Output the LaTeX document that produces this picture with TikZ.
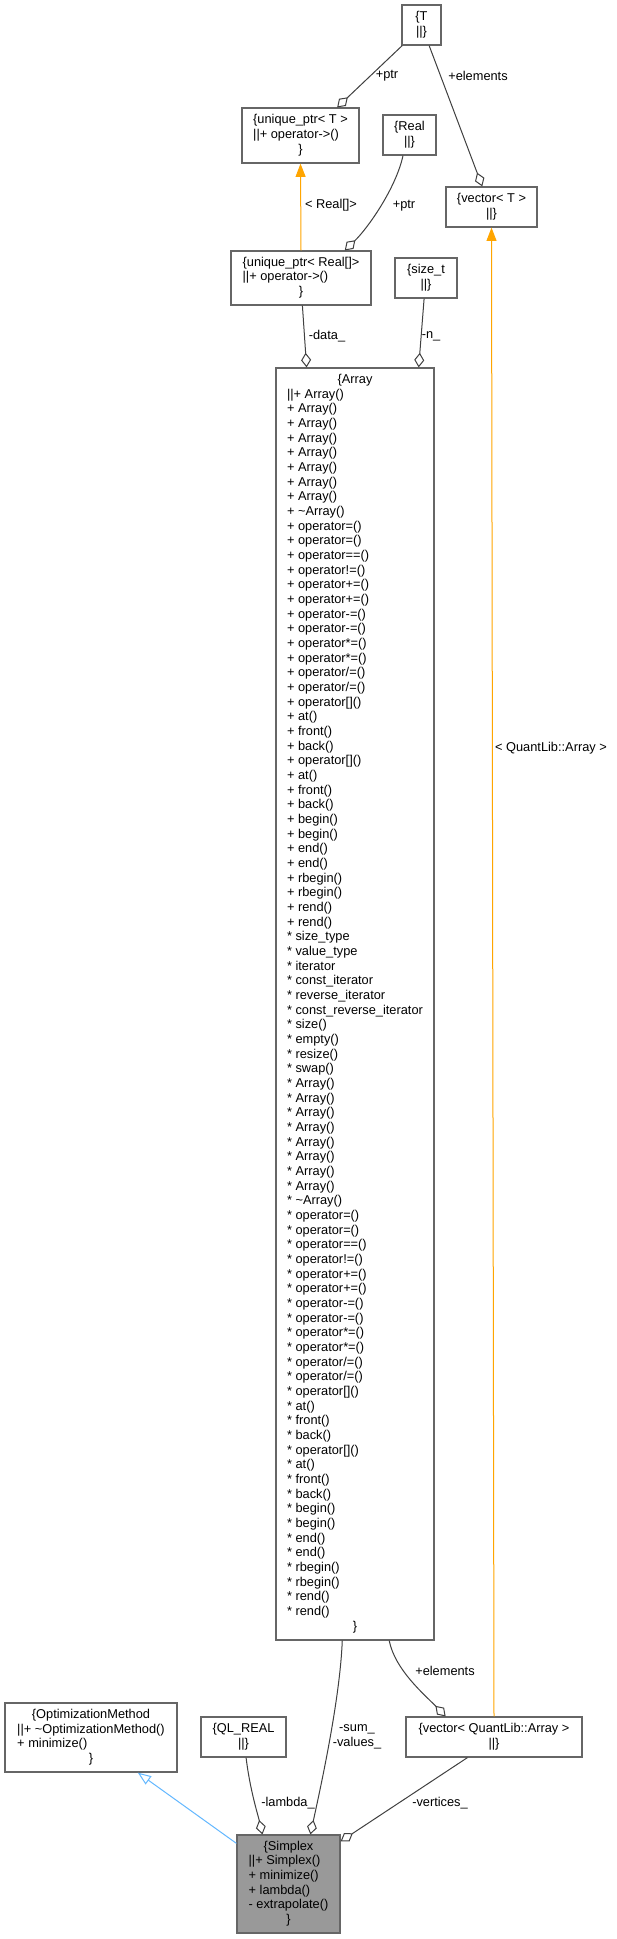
\documentclass[tikz,border=0pt]{standalone}
\usepackage{fontspec}
\setmainfont{Liberation Sans}
\usetikzlibrary{arrows.meta,calc}
\definecolor{edgegray}{HTML}{404040}
\definecolor{boxgray}{HTML}{666666}
\definecolor{inhblue}{HTML}{63B8FF}
\definecolor{tplorange}{HTML}{FFA500}
\definecolor{curfill}{HTML}{999999}
\newcommand\rec[1]{\begin{tabular}{@{}l@{}}#1\end{tabular}}
\newcommand\ctr[1]{\multicolumn{1}{@{}c@{}}{#1}}
\newcommand\tl{\textasciitilde}
\newcommand\clsbox[7][]{\node[cls,#1,minimum width={(#5-#3)*0.75pt},minimum height={(#6-#4)*0.75pt}] (#2) at ({(#3+#5)/2},{(#4+#6)/2}) {#7};}
\begin{document}
\begin{tikzpicture}[x=0.75pt,y=-0.75pt,font=\fontsize{9.6}{11}\selectfont,
  cls/.style={draw=boxgray,line width=0.9pt,fill=white,inner sep=0pt,rectangle,align=center},
  lbl/.style={inner sep=0pt,text=black,align=center},
  agg/.style={draw=edgegray,line width=0.75pt,-{Diamond[open,length=11pt,width=7.5pt]}},
  tpl/.style={draw=tplorange,line width=0.75pt,-{Triangle[length=10pt,width=7.5pt,fill=tplorange]}},
  inh/.style={draw=inhblue,line width=0.75pt,-{Triangle[open,length=10pt,width=7.5pt]}}]
\useasboundingbox (0,0) rectangle (617,1939);
\fill[white] (0,0) rectangle (617,1939);

\clsbox{T}{402}{5}{441}{45}{\{T\\||\}}
\clsbox{uptrT}{242}{108}{359}{163}{\rec{\ctr{\{unique\_ptr< T >}\\||+ operator->()\\\ctr{\}}}}
\clsbox{Real}{383}{115}{436}{155}{\{Real\\||\}}
\clsbox{vecT}{446}{187}{537}{227}{\{vector< T >\\||\}}
\clsbox{uptrReal}{231}{251}{371}{305}{\rec{\ctr{\{unique\_ptr< Real[]>}\\||+ operator->()\\\ctr{\}}}}
\clsbox{sizet}{395}{258}{457}{298}{\{size\_t\\||\}}
\clsbox{array}{276}{368}{434}{1640}{\rec{\ctr{\{Array}\\
||+ Array()\\
+ Array()\\
+ Array()\\
+ Array()\\
+ Array()\\
+ Array()\\
+ Array()\\
+ Array()\\
+ \tl Array()\\
+ operator=()\\
+ operator=()\\
+ operator==()\\
+ operator!=()\\
+ operator+=()\\
+ operator+=()\\
+ operator-=()\\
+ operator-=()\\
+ operator*=()\\
+ operator*=()\\
+ operator/=()\\
+ operator/=()\\
+ operator[]()\\
+ at()\\
+ front()\\
+ back()\\
+ operator[]()\\
+ at()\\
+ front()\\
+ back()\\
+ begin()\\
+ begin()\\
+ end()\\
+ end()\\
+ rbegin()\\
+ rbegin()\\
+ rend()\\
+ rend()\\
{}* size\_type\\
{}* value\_type\\
{}* iterator\\
{}* const\_iterator\\
{}* reverse\_iterator\\
{}* const\_reverse\_iterator\\
{}* size()\\
{}* empty()\\
{}* resize()\\
{}* swap()\\
{}* Array()\\
{}* Array()\\
{}* Array()\\
{}* Array()\\
{}* Array()\\
{}* Array()\\
{}* Array()\\
{}* Array()\\
{}* \tl Array()\\
{}* operator=()\\
{}* operator=()\\
{}* operator==()\\
{}* operator!=()\\
{}* operator+=()\\
{}* operator+=()\\
{}* operator-=()\\
{}* operator-=()\\
{}* operator*=()\\
{}* operator*=()\\
{}* operator/=()\\
{}* operator/=()\\
{}* operator[]()\\
{}* at()\\
{}* front()\\
{}* back()\\
{}* operator[]()\\
{}* at()\\
{}* front()\\
{}* back()\\
{}* begin()\\
{}* begin()\\
{}* end()\\
{}* end()\\
{}* rbegin()\\
{}* rbegin()\\
{}* rend()\\
{}* rend()\\
\ctr{\}}}}
\clsbox{OM}{5}{1703}{177}{1772}{\rec{\ctr{\{OptimizationMethod}\\||+ \tl OptimizationMethod()\\+ minimize()\\\ctr{\}}}}
\clsbox{QLR}{201}{1717}{286}{1757}{\{QL\_REAL\\||\}}
\clsbox{vecQA}{406}{1717}{582}{1757}{\{vector< QuantLib::Array >\\||\}}
\clsbox[fill=curfill]{Simplex}{237}{1835}{340}{1933}{\rec{\ctr{\{Simplex}\\||+ Simplex()\\+ minimize()\\+ lambda()\\- extrapolate()\\\ctr{\}}}}

% connectors
\draw[agg] ($(T.south west)!0.02!(T.south east)$) -- ($(uptrT.north west)!0.81!(uptrT.north east)$);
\node[lbl] (lptrT) at (387,76) {+ptr};
\draw[agg] ($(T.south west)!0.69!(T.south east)$) -- ($(vecT.north west)!0.40!(vecT.north east)$);
\node[lbl] (lelemT) at (478,76) {+elements};
\draw[agg] ($(Real.south west)!0.38!(Real.south east)$) .. controls (396,188) and (368,228) .. ($(uptrReal.north west)!0.81!(uptrReal.north east)$);
\node[lbl] (lptrR) at (404,206) {+ptr};
\draw[tpl] (uptrReal.north) -- (uptrT.south);
\node[lbl] (lreal) at (331,205) {< Real[]>};
\draw[tpl] (vecQA.north) -- (vecT.south);
\node[lbl] (lqa) at (551,748) {< QuantLib::Array >};
\draw[agg] ($(uptrReal.south west)!0.51!(uptrReal.south east)$) -- ($(array.north west)!0.196!(array.north east)$);
\node[lbl] (ldata) at (327,336) {-data\_};
\draw[agg] ($(sizet.south west)!0.47!(sizet.south east)$) -- ($(array.north west)!0.90!(array.north east)$);
\node[lbl] (ln) at (431,336) {-n\_};
\draw[agg] ($(array.south west)!0.715!(array.south east)$) .. controls (395,1670) and (425,1695) .. ($(vecQA.north west)!0.227!(vecQA.north east)$);
\node[lbl] (lelemA) at (445,1671) {+elements};
\draw[agg] ($(array.south west)!0.42!(array.south east)$) .. controls (340,1700) and (320,1790) .. ($(Simplex.north west)!0.71!(Simplex.north east)$);
\node[lbl] (lsum) at (357,1737) {-sum\_\\-values\_};
\draw[agg] ($(QLR.south west)!0.53!(QLR.south east)$) .. controls (250,1790) and (258,1815) .. ($(Simplex.north west)!0.25!(Simplex.north east)$);
\node[lbl] (llambda) at (288,1803) {-lambda\_};
\draw[agg] ($(vecQA.south west)!0.35!(vecQA.south east)$) -- ($(Simplex.north east)!0.07!(Simplex.south east)$);
\node[lbl] (lvert) at (440,1803) {-vertices\_};
\draw[inh] ($(Simplex.north west)!0.09!(Simplex.south west)$) -- ($(OM.south west)!0.77!(OM.south east)$);
\end{tikzpicture}
\end{document}
